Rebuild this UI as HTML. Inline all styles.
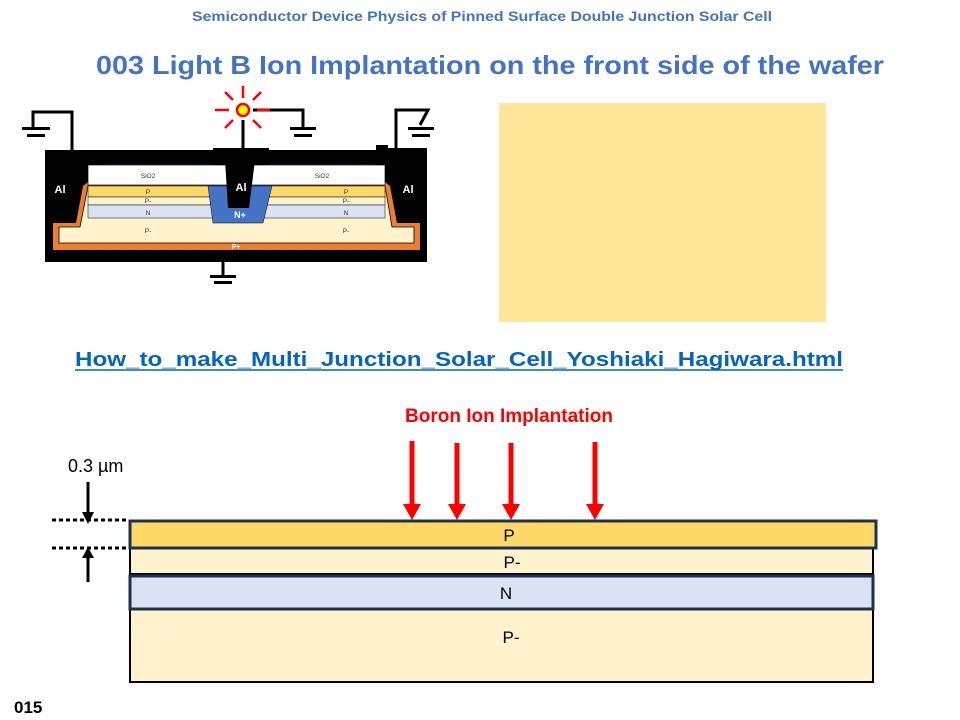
<!DOCTYPE html>
<html><head><meta charset="utf-8"><style>body{margin:0;background:#fff}svg{display:block}</style></head>
<body>
<svg width="960" height="720" viewBox="0 0 960 720" xmlns="http://www.w3.org/2000/svg" font-family="Liberation Sans, sans-serif">
<text x="482" y="21" text-anchor="middle" font-size="14" font-weight="bold" fill="#4472C4" textLength="580" lengthAdjust="spacingAndGlyphs">Semiconductor Device Physics of Pinned Surface Double Junction Solar Cell</text>
<text x="490" y="74" text-anchor="middle" font-size="26" font-weight="bold" fill="#4472C4" textLength="788" lengthAdjust="spacingAndGlyphs">003   Light B Ion Implantation on the front side of the wafer</text>
<rect x="499" y="103" width="327" height="219" fill="#FFE699"/>
<text x="459" y="366" text-anchor="middle" font-size="20" font-weight="bold" fill="#0563C1" textLength="768" lengthAdjust="spacingAndGlyphs">How_to_make_Multi_Junction_Solar_Cell_Yoshiaki_Hagiwara.html</text>
<line x1="75" y1="370" x2="843" y2="370" stroke="#0563C1" stroke-width="1.5"/>

<!-- small device -->
<g>
<rect x="45" y="150" width="382" height="112" fill="#000"/>
<rect x="53" y="180" width="367" height="70" fill="#ED7D31"/>
<path d="M88,186 L385,186 L392,227 L414,227 L414,243 L59,243 L59,227 L80,227 Z" fill="#FFF2CC" stroke="#000" stroke-width="0.8"/>
<rect x="88" y="186" width="297" height="11" fill="#FFD966" stroke="#000" stroke-width="0.5"/>
<rect x="88" y="197" width="297" height="8" fill="#FFF2CC" stroke="#000" stroke-width="0.5"/>
<rect x="88" y="205" width="297" height="13" fill="#DAE3F3" stroke="#000" stroke-width="0.5"/>
<path d="M208,186 L272,186 L263,223 L213,223 Z" fill="#4472C4" stroke="#000" stroke-width="0.5"/>
<rect x="88" y="165" width="297" height="20" fill="#fff" stroke="#1F3050" stroke-width="0.8"/>
<rect x="213" y="148" width="56" height="17" fill="#000"/>
<path d="M225,160 L255,160 L249,208 L228,208 Z" fill="#000"/>
<path d="M45,150 L103,150 L103,165 L88,165 L88,182 L83,186 L76,223 L53,223 L45,226 Z" fill="#000"/>
<path d="M427,148 L385,148 L385,182 L390,186 L397,223 L420,223 L427,226 Z" fill="#000"/>
<rect x="376" y="145" width="12" height="20" fill="#000"/>
<g font-size="6.5" fill="#333" text-anchor="middle">
<text x="148" y="178">SiO2</text><text x="322" y="178">SiO2</text>
<text x="148" y="194">P</text><text x="346" y="194">P</text>
<text x="148" y="203">P-</text><text x="346" y="203">P-</text>
<text x="148" y="215">N</text><text x="346" y="215">N</text>
<text x="148" y="233">P-</text><text x="346" y="233">P-</text>
</g>
<g font-size="11" font-weight="bold" fill="#fff" text-anchor="middle">
<text x="60" y="193">Al</text><text x="241" y="191">Al</text><text x="408" y="193">Al</text>
<text x="240" y="218" font-size="9">N+</text>
<text x="236" y="249" font-size="7">P+</text>
</g>
<g stroke="#000" stroke-width="3" fill="none">
<path d="M72,150 V112 H33 V128"/>
<path d="M243,148 V120"/>
<path d="M253,110 H303 V127"/>
<path d="M396,150 V110 H428 L420,125"/>
<path d="M223,262 V275"/>
</g>
<g fill="#000">
<rect x="22" y="127" width="28" height="3"/><rect x="27" y="134" width="18" height="3"/>
<rect x="290" y="127" width="26" height="3"/><rect x="294" y="134" width="18" height="3"/>
<rect x="408" y="127" width="26" height="3"/><rect x="412" y="134" width="18" height="3"/>
<rect x="210" y="275" width="26" height="3"/><rect x="214" y="281" width="18" height="3"/>
</g>
<g stroke="#f00" stroke-width="2.5">
<line x1="243" y1="86" x2="243" y2="98"/>
<line x1="215" y1="110" x2="229" y2="110"/>
<line x1="257" y1="110" x2="270" y2="110"/>
<line x1="225" y1="92" x2="233" y2="100"/>
<line x1="261" y1="92" x2="253" y2="100"/>
<line x1="225" y1="128" x2="233" y2="120"/>
<line x1="261" y1="128" x2="253" y2="120"/>
</g>
<circle cx="243" cy="110" r="6" fill="#FFFF00" stroke="#f00" stroke-width="2.5"/>
</g>

<!-- bottom diagram -->
<text x="509" y="422" text-anchor="middle" font-size="19" font-weight="bold" fill="#f00">Boron Ion Implantation</text>
<g stroke="#f00" stroke-width="5">
<line x1="412" y1="441" x2="412" y2="505"/><line x1="457" y1="443" x2="457" y2="505"/>
<line x1="511" y1="443" x2="511" y2="505"/><line x1="595" y1="442" x2="595" y2="505"/>
</g>
<g fill="#f00">
<path d="M403,504 L421,504 L412,520Z"/><path d="M448,504 L466,504 L457,520Z"/>
<path d="M502,504 L520,504 L511,520Z"/><path d="M586,504 L604,504 L595,520Z"/>
</g>
<rect x="130" y="609" width="743" height="73" fill="#FFF2CC" stroke="#000" stroke-width="2"/>
<rect x="130" y="548" width="743" height="26" fill="#FFF2CC" stroke="#000" stroke-width="2"/>
<rect x="130" y="576" width="743" height="33" fill="#DAE3F3" stroke="#1F3050" stroke-width="3"/>
<rect x="130" y="521" width="746" height="27" fill="#FFD966" stroke="#1F3050" stroke-width="3"/>
<g font-size="17" fill="#000" text-anchor="middle">
<text x="509" y="541">P</text><text x="512" y="568">P-</text>
<text x="506" y="599">N</text><text x="511" y="643">P-</text>
</g>
<text x="68" y="472" font-size="18" fill="#000">0.3 µm</text>
<g stroke="#000" stroke-width="3" stroke-dasharray="4,3">
<line x1="52" y1="520" x2="128" y2="520"/><line x1="52" y1="548" x2="128" y2="548"/>
</g>
<g stroke="#000" stroke-width="3"><line x1="88" y1="482" x2="88" y2="514"/><line x1="88" y1="556" x2="88" y2="582"/></g>
<path d="M82,512 L94,512 L88,524Z" fill="#000"/><path d="M82,558 L94,558 L88,547Z" fill="#000"/>
<text x="14" y="713" font-size="17" font-weight="bold" fill="#000">015</text>
</svg>
</body></html>
